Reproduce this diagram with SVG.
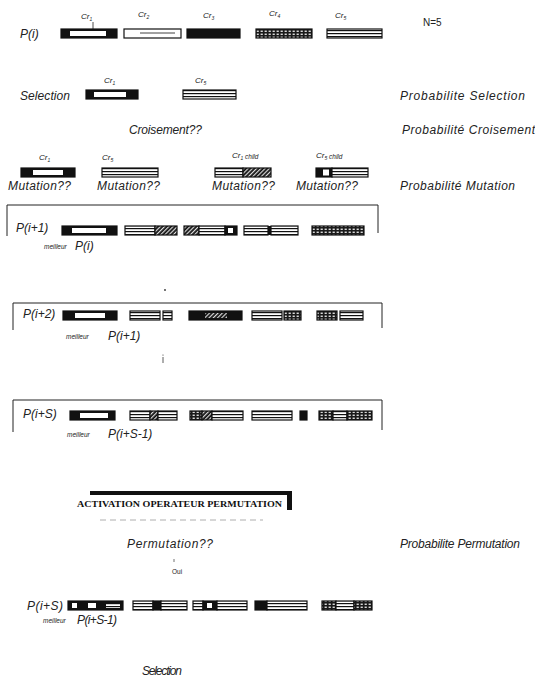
<svg xmlns="http://www.w3.org/2000/svg" width="535" height="688" viewBox="0 0 535 688">
<style>
text{font-family:"Liberation Sans",Arial,sans-serif;font-style:italic;fill:#222}
.lbl{font-size:12px}
.cr{font-size:8px}
.sm{font-size:6.5px}
.up{font-style:normal}
.serif{font-family:"Liberation Serif","Times New Roman",serif;font-style:normal;font-weight:bold;fill:#111}
.frame{fill:none;stroke:#222;stroke-width:1}
.ol{stroke:#111;stroke-width:1.2}
.blk{fill:#111}
.wht{fill:#fff}
.str{fill:url(#stripes)}
.chk{fill:url(#checks)}
.hat{fill:url(#hatch)}
</style>
<defs>
<pattern id="stripes" width="4" height="3" patternUnits="userSpaceOnUse"><rect width="4" height="3" fill="#fff"/><rect width="4" height="1.2" fill="#111"/></pattern>
<pattern id="checks" width="4" height="3" patternUnits="userSpaceOnUse"><rect width="4" height="3" fill="#1a1a1a"/><rect x="0.6" y="0.6" width="2.2" height="1.3" fill="#eee"/></pattern>
<pattern id="hatch" width="3" height="3" patternUnits="userSpaceOnUse" patternTransform="rotate(45)"><rect width="3" height="3" fill="#111"/><rect width="1.2" height="3" fill="#ddd"/></pattern>
</defs>
<rect width="535" height="688" fill="#fff"/>

<g id="row-Pi">
<text class="lbl" x="20" y="38" font-size="13">P(i)</text>
<text class="cr" x="81" y="19">Cr<tspan font-size="5" dy="2">1</tspan></text>
<text class="cr" x="138" y="17">Cr<tspan font-size="5" dy="2">2</tspan></text>
<text class="cr" x="203" y="18">Cr<tspan font-size="5" dy="2">3</tspan></text>
<text class="cr" x="269" y="16">Cr<tspan font-size="5" dy="2">4</tspan></text>
<text class="cr" x="335" y="18">Cr<tspan font-size="5" dy="2">5</tspan></text>
<line x1="93" y1="22" x2="93" y2="29" stroke="#222" stroke-width="0.8"/>
<rect class="blk ol" x="61" y="29" width="56" height="9"/><rect class="wht" x="70" y="31" width="36" height="5"/>
<rect class="wht ol" x="124" y="29" width="57" height="9"/><line x1="140" y1="33" x2="175" y2="33" stroke="#111" stroke-width="0.8"/>
<rect class="blk ol" x="187" y="29" width="53" height="9"/>
<rect class="chk ol" x="256" y="29" width="56" height="9"/>
<rect class="str ol" x="327" y="29" width="55" height="9"/>
<text class="up" x="423" y="26" font-size="10">N=5</text>
</g>

<g id="row-selection">
<text class="lbl" x="20" y="100" textLength="50">Selection</text>
<text class="cr" x="104" y="83">Cr<tspan font-size="5" dy="2">1</tspan></text>
<text class="cr" x="195" y="83">Cr<tspan font-size="5" dy="2">5</tspan></text>
<rect class="blk ol" x="86" y="90" width="52" height="9"/><rect class="wht" x="94" y="92" width="32" height="5"/>
<rect class="str ol" x="183" y="90" width="53" height="9"/>
<text class="lbl" x="400" y="100" textLength="125">Probabilite Selection</text>
<text class="lbl" x="129" y="134" textLength="73">Croisement??</text>
<text class="lbl" x="402" y="134" textLength="133">Probabilité Croisement</text>
</g>

<g id="row-mutation">
<text class="cr" x="39" y="160">Cr<tspan font-size="5" dy="2">1</tspan></text>
<text class="cr" x="102" y="160">Cr<tspan font-size="5" dy="2">5</tspan></text>
<text class="cr" x="232" y="158">Cr<tspan font-size="5" dy="2">1</tspan><tspan font-size="6.5" dy="-1"> child</tspan></text>
<text class="cr" x="316" y="158">Cr<tspan font-size="5" dy="2">5</tspan><tspan font-size="6.5" dy="-1"> child</tspan></text>
<rect class="blk ol" x="21" y="168" width="54" height="9"/><rect class="wht" x="33" y="170" width="30" height="5"/>
<rect class="str ol" x="102" y="168" width="56" height="9"/>
<rect class="str ol" x="215" y="168" width="28" height="9"/><rect class="hat ol" x="243" y="168" width="28" height="9"/>
<rect class="blk ol" x="316" y="168" width="16" height="9"/><rect class="wht" x="323" y="169.5" width="6" height="6"/><rect class="str ol" x="332" y="168" width="36" height="9"/>
<text class="lbl" x="8" y="190" textLength="63">Mutation??</text>
<text class="lbl" x="97" y="190" textLength="63">Mutation??</text>
<text class="lbl" x="212" y="190" textLength="63">Mutation??</text>
<text class="lbl" x="296" y="190" textLength="62">Mutation??</text>
<text class="lbl" x="400" y="190" textLength="115">Probabilité Mutation</text>
</g>

<g id="gen-1">
<path class="frame" d="M7 236 V205 H378 V233"/>
<text class="lbl" x="16" y="232">P(i+1)</text>
<rect class="blk ol" x="62" y="226" width="55" height="9"/><rect class="wht" x="72" y="228" width="34" height="5"/>
<rect class="str ol" x="125" y="226" width="30" height="9"/><rect class="hat ol" x="155" y="226" width="22" height="9"/>
<rect class="hat ol" x="184" y="226" width="15" height="9"/><rect class="str ol" x="199" y="226" width="26" height="9"/><rect class="blk ol" x="225" y="226" width="12" height="9"/><rect class="wht" x="228" y="228" width="5" height="5"/>
<rect class="str ol" x="244" y="226" width="24" height="9"/><rect class="blk" x="268" y="226" width="3" height="9"/><rect class="str ol" x="271" y="226" width="27" height="9"/>
<rect class="chk ol" x="312" y="226" width="52" height="9"/>
<text class="sm" x="44" y="249">meilleur</text>
<text class="lbl" x="75" y="250">P(i)</text>
</g>

<circle cx="165" cy="290" r="0.9" fill="#333"/>

<g id="gen-2">
<path class="frame" d="M13 330 V303 H382 V328"/>
<text class="lbl" x="23" y="318">P(i+2)</text>
<rect class="blk ol" x="63" y="311" width="54" height="9"/><rect class="wht" x="75" y="313" width="30" height="5"/>
<rect class="str ol" x="130" y="311" width="30" height="9"/><rect class="str ol" x="163" y="311" width="9" height="9"/>
<rect class="blk ol" x="189" y="311" width="53" height="9"/><rect class="hat" x="205" y="313" width="22" height="5"/>
<rect class="str ol" x="252" y="311" width="30" height="9"/><rect class="chk ol" x="284" y="311" width="17" height="9"/>
<rect class="chk ol" x="317" y="311" width="20" height="9"/><rect class="str ol" x="340" y="311" width="23" height="9"/>
<text class="sm" x="66" y="339">meilleur</text>
<text class="lbl" x="108" y="340">P(i+1)</text>
</g>

<line x1="163" y1="357" x2="163" y2="363" stroke="#333" stroke-width="0.8"/><circle cx="163" cy="355" r="0.6" fill="#333"/>

<g id="gen-S">
<path class="frame" d="M13 432 V400 H382 V430"/>
<text class="lbl" x="23" y="418">P(i+S)</text>
<rect class="blk ol" x="70" y="411" width="45" height="9"/><rect class="wht" x="80" y="413" width="28" height="5"/>
<rect class="str ol" x="130" y="411" width="20" height="9"/><rect class="hat ol" x="150" y="411" width="8" height="9"/><rect class="str ol" x="158" y="411" width="19" height="9"/>
<rect class="chk ol" x="190" y="411" width="12" height="9"/><rect class="hat ol" x="202" y="411" width="10" height="9"/><rect class="str ol" x="212" y="411" width="31" height="9"/>
<rect class="str ol" x="252" y="411" width="40" height="9"/><rect class="blk ol" x="300" y="411" width="7" height="9"/>
<rect class="chk ol" x="319" y="411" width="14" height="9"/><rect class="str ol" x="333" y="411" width="14" height="9"/><rect class="chk ol" x="347" y="411" width="25" height="9"/>
<text class="sm" x="67" y="437">meilleur</text>
<text class="lbl" x="108" y="438">P(i+S-1)</text>
</g>

<g id="activation">
<rect x="90" y="491" width="202" height="4" fill="#111"/>
<rect x="287" y="491" width="5" height="19" fill="#111"/>
<text class="serif" x="77" y="507" font-size="8.5" textLength="205" lengthAdjust="spacingAndGlyphs">ACTIVATION OPERATEUR PERMUTATION</text>
<line x1="100" y1="520" x2="263" y2="520" stroke="#999" stroke-width="0.8" stroke-dasharray="6 4"/>
</g>

<g id="row-permutation">
<text class="lbl" x="127" y="548" textLength="86">Permutation??</text>
<text class="lbl" x="400" y="548" textLength="120">Probabilite Permutation</text>
<line x1="174" y1="559" x2="174" y2="562" stroke="#333" stroke-width="0.7"/>
<text class="sm up" x="172" y="574">Oui</text>
</g>

<g id="gen-S-perm">
<text class="lbl" x="27" y="610" textLength="36">P(i+S)</text>
<rect class="blk ol" x="68" y="601" width="55" height="9"/><rect class="wht" x="72" y="603" width="5" height="5"/><rect class="wht" x="88" y="603" width="8" height="5"/><rect class="str" x="106" y="603" width="14" height="5"/>
<rect class="str ol" x="133" y="601" width="20" height="9"/><rect class="blk ol" x="153" y="601" width="8" height="9"/><rect class="str ol" x="161" y="601" width="26" height="9"/>
<rect class="str ol" x="193" y="601" width="10" height="9"/><rect class="blk ol" x="203" y="601" width="14" height="9"/><rect class="wht" x="207" y="603" width="5" height="5"/><rect class="str ol" x="217" y="601" width="30" height="9"/>
<rect class="blk ol" x="255" y="601" width="12" height="9"/><rect class="str ol" x="267" y="601" width="40" height="9"/>
<rect class="chk ol" x="322" y="601" width="14" height="9"/><rect class="str ol" x="336" y="601" width="18" height="9"/><rect class="chk ol" x="354" y="601" width="18" height="9"/>
<text class="sm" x="43" y="623">meilleur</text>
<text class="lbl" x="77" y="624" textLength="40">P(i+S-1)</text>
</g>

<text class="lbl" x="142" y="675" textLength="40">Selection</text>
</svg>
